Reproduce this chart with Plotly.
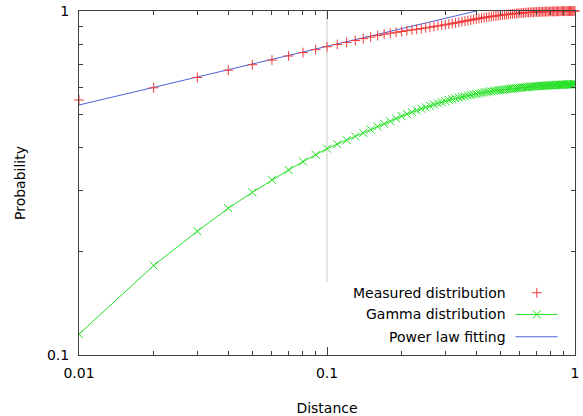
import plotly.graph_objects as go

# ---- data ----
distance = [round(0.01 * i, 2) for i in range(1, 101)]

measured = [
    0.551, 0.598, 0.641, 0.673, 0.698, 0.720, 0.740, 0.757, 0.772, 0.787,
    0.799, 0.810, 0.821, 0.831, 0.840, 0.848, 0.856, 0.862, 0.867, 0.872,
    0.877, 0.881, 0.885, 0.889, 0.893, 0.897, 0.901, 0.905, 0.909, 0.912,
    0.916, 0.920, 0.924, 0.927, 0.931, 0.935, 0.938, 0.941, 0.945, 0.948,
    0.951, 0.954, 0.957, 0.959, 0.962, 0.964, 0.966, 0.968, 0.970, 0.972,
    0.974, 0.975, 0.977, 0.978, 0.980, 0.981, 0.982, 0.984, 0.985, 0.986,
    0.987, 0.988, 0.989, 0.990, 0.990, 0.991, 0.992, 0.992, 0.993, 0.993,
    0.994, 0.994, 0.995, 0.995, 0.995, 0.996, 0.996, 0.996, 0.997, 0.997,
    0.997, 0.997, 0.998, 0.998, 0.998, 0.998, 0.998, 0.999, 0.999, 0.999,
    0.999, 0.999, 0.999, 0.999, 1.000, 1.000, 1.000, 1.000, 1.000, 1.000,
]

gamma = [
    0.115, 0.182, 0.229, 0.267, 0.297, 0.323, 0.345, 0.365, 0.382, 0.398,
    0.410, 0.421, 0.432, 0.442, 0.452, 0.461, 0.470, 0.478, 0.487, 0.495,
    0.502, 0.508, 0.514, 0.520, 0.525, 0.530, 0.535, 0.539, 0.543, 0.547,
    0.551, 0.554, 0.557, 0.560, 0.563, 0.565, 0.568, 0.570, 0.572, 0.574,
    0.576, 0.578, 0.580, 0.581, 0.583, 0.584, 0.586, 0.587, 0.588, 0.589,
    0.590, 0.591, 0.592, 0.593, 0.594, 0.595, 0.596, 0.597, 0.597, 0.598,
    0.599, 0.600, 0.600, 0.601, 0.601, 0.602, 0.603, 0.603, 0.604, 0.604,
    0.605, 0.605, 0.606, 0.606, 0.606, 0.607, 0.607, 0.607, 0.608, 0.608,
    0.608, 0.609, 0.609, 0.609, 0.610, 0.610, 0.610, 0.610, 0.611, 0.611,
    0.611, 0.611, 0.612, 0.612, 0.612, 0.612, 0.612, 0.613, 0.613, 0.613,
]

power_x = [0.01, 0.1, 0.4]
power_y = [0.533, 0.789, 1.0]

x_ticks = [0.01, 0.1, 1]
x_ticktext = ["0.01", "0.1", "1"]
y_ticks = [0.1, 1]
y_ticktext = ["0.1", "1"]
x_minor = [0.02, 0.03, 0.04, 0.05, 0.06, 0.07, 0.08, 0.09,
           0.2, 0.3, 0.4, 0.5, 0.6, 0.7, 0.8, 0.9]
y_minor = [0.2, 0.3, 0.4, 0.5, 0.6, 0.7, 0.8, 0.9]

legend_names = ["Measured distribution", "Gamma distribution", "Power law fitting"]

RED = "#f03a3a"
GREEN = "#22e022"
BLUE = "#4a62d8"
AXIS = "#404040"
FONT = "DejaVu Sans"
FS = 14

fig = go.Figure()

fig.add_trace(go.Scatter(
    x=distance, y=gamma, mode="lines+markers",
    line=dict(color=GREEN, width=1),
    marker=dict(symbol="x-thin", size=8, line=dict(color=GREEN, width=1)),
    showlegend=False))

fig.add_trace(go.Scatter(
    x=power_x, y=power_y, mode="lines",
    line=dict(color=BLUE, width=1), showlegend=False))

fig.add_trace(go.Scatter(
    x=distance, y=measured, mode="markers",
    marker=dict(symbol="cross-thin", size=7, line=dict(color=RED, width=1)),
    showlegend=False, cliponaxis=False))

# --- custom key (text left of sample, gnuplot style) ---
key_y = [0.181, 0.118, 0.053]
key_text_x = 0.864
sample_x0, sample_x1, sample_mid = 0.880, 0.965, 0.923

for name, yy in zip(legend_names, key_y):
    fig.add_annotation(x=key_text_x, y=yy, xref="paper", yref="paper",
                       text=name, showarrow=False, xanchor="right",
                       yanchor="middle", font=dict(family=FONT, size=FS, color="#000"))

fig.add_shape(type="line", xref="paper", yref="paper",
              x0=sample_x0, x1=sample_x1, y0=key_y[1], y1=key_y[1],
              line=dict(color=GREEN, width=1))
fig.add_shape(type="line", xref="paper", yref="paper",
              x0=sample_x0, x1=sample_x1, y0=key_y[2], y1=key_y[2],
              line=dict(color=BLUE, width=1))

fig.add_trace(go.Scatter(
    x=[sample_mid], y=[key_y[0]], xaxis="x2", yaxis="y2", mode="markers",
    marker=dict(symbol="cross-thin", size=7, line=dict(color=RED, width=1)),
    showlegend=False, hoverinfo="skip"))
fig.add_trace(go.Scatter(
    x=[sample_mid], y=[key_y[1]], xaxis="x2", yaxis="y2", mode="markers",
    marker=dict(symbol="x-thin", size=8, line=dict(color=GREEN, width=1)),
    showlegend=False, hoverinfo="skip"))

# grid line at x = 0.1 (hidden behind key box below)
fig.add_shape(type="line", xref="x", yref="paper", x0=0.1, x1=0.1,
              y0=0.212, y1=1, line=dict(color="#c8c8c8", width=1), layer="below")

axis_common = dict(
    type="log", showgrid=False, zeroline=False,
    showline=True, linecolor=AXIS, linewidth=1, mirror="ticks",
    ticks="inside", ticklen=8, tickcolor=AXIS, tickwidth=1,
    tickfont=dict(family=FONT, size=FS, color="#000"),
)

fig.update_layout(
    width=583, height=416,
    margin=dict(l=79, r=8, t=11, b=61, autoexpand=False),
    paper_bgcolor="white", plot_bgcolor="white",
    font=dict(family=FONT, size=FS, color="#000"),
    xaxis=dict(**axis_common, range=[-2, 0], tickmode="array",
               tickvals=x_ticks, ticktext=x_ticktext,
               minor=dict(tickmode="array", tickvals=x_minor, ticks="inside",
                          ticklen=4, tickcolor=AXIS, showgrid=False),
               ticklabelstandoff=5,
               title=dict(text="Distance", font=dict(family=FONT, size=FS),
                          standoff=23)),
    yaxis=dict(**axis_common, range=[-1, 0], tickmode="array",
               tickvals=y_ticks, ticktext=y_ticktext,
               minor=dict(tickmode="array", tickvals=y_minor, ticks="inside",
                          ticklen=4, tickcolor=AXIS, showgrid=False),
               ticklabelstandoff=6,
               title=dict(text="Probability", font=dict(family=FONT, size=FS),
                          standoff=18)),
    xaxis2=dict(overlaying="x", range=[0, 1], visible=False, fixedrange=True),
    yaxis2=dict(overlaying="y", range=[0, 1], visible=False, fixedrange=True),
    showlegend=False,
)

fig.write_html("out.html")
